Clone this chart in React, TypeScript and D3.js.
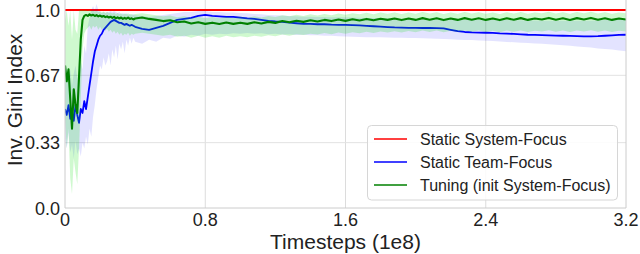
import * as d3 from 'd3'

// timesteps (1e8): fine grid early on, coarser afterwards
const steps = [
  0, 0.01, 0.02, 0.03, 0.04, 0.05, 0.06, 0.07, 0.08, 0.09,
  0.1, 0.11, 0.12, 0.13, 0.14, 0.15, 0.16, 0.17, 0.18, 0.19,
  0.2, 0.21, 0.22, 0.23, 0.24, 0.25, 0.26, 0.27, 0.28, 0.29,
  0.3, 0.31, 0.32, 0.33, 0.34, 0.35, 0.36, 0.37, 0.38, 0.39,
  0.4,
  0.44, 0.48, 0.52, 0.56, 0.6, 0.64, 0.68, 0.72, 0.76, 0.8,
  0.84, 0.88, 0.92, 0.96, 1.0, 1.04, 1.08, 1.12, 1.16, 1.2,
  1.24, 1.28, 1.32, 1.36, 1.4, 1.44, 1.48, 1.52, 1.56, 1.6,
  1.64, 1.68, 1.72, 1.76, 1.8, 1.84, 1.88, 1.92, 1.96, 2.0,
  2.04, 2.08, 2.12, 2.16, 2.2, 2.24, 2.28, 2.32, 2.36, 2.4,
  2.44, 2.48, 2.52, 2.56, 2.6, 2.64, 2.68, 2.72, 2.76, 2.8,
  2.84, 2.88, 2.92, 2.96, 3.0, 3.04, 3.08, 3.12, 3.16, 3.2,
]

const systemSteps = [0, 3.2]
const systemFocus = [1.0, 1.0]

const teamFocus = [
  0.5, 0.47, 0.52, 0.45, 0.49, 0.44, 0.52, 0.47, 0.43, 0.5,
  0.48, 0.54, 0.5, 0.56, 0.62, 0.68, 0.74, 0.79, 0.82, 0.85,
  0.87, 0.88, 0.9, 0.91, 0.92, 0.93, 0.94, 0.945, 0.95, 0.945,
  0.94, 0.935, 0.935, 0.93, 0.925, 0.93, 0.925, 0.92, 0.925, 0.92,
  0.915,
  0.905, 0.9, 0.91, 0.92, 0.935, 0.95, 0.955, 0.96, 0.97, 0.975,
  0.97, 0.968, 0.965, 0.965, 0.962, 0.958, 0.955, 0.95, 0.945, 0.942,
  0.94, 0.936, 0.933, 0.93, 0.93, 0.928, 0.928, 0.926, 0.925, 0.925,
  0.924, 0.922, 0.92, 0.918, 0.916, 0.914, 0.912, 0.911, 0.91, 0.91,
  0.909, 0.909, 0.908, 0.907, 0.9, 0.893, 0.889, 0.887, 0.886, 0.885,
  0.884, 0.882, 0.881, 0.879, 0.877, 0.875, 0.874, 0.873, 0.872, 0.871,
  0.87, 0.869, 0.868, 0.867, 0.867, 0.868, 0.87, 0.872, 0.874, 0.875,
]
const teamLow = [
  0.35, 0.3, 0.38, 0.28, 0.32, 0.25, 0.34, 0.27, 0.3, 0.26,
  0.33, 0.3, 0.36, 0.32, 0.4, 0.36, 0.46, 0.52, 0.6, 0.66,
  0.72, 0.7, 0.76, 0.72, 0.74, 0.78, 0.72, 0.8, 0.76, 0.82,
  0.75, 0.83, 0.8, 0.84, 0.78, 0.85, 0.82, 0.86, 0.83, 0.86,
  0.84,
  0.83, 0.85, 0.84, 0.86, 0.855, 0.87, 0.865, 0.875, 0.87, 0.88,
  0.875, 0.88, 0.878, 0.882, 0.88, 0.884, 0.88, 0.882, 0.878, 0.88,
  0.876, 0.878, 0.874, 0.875, 0.872, 0.873, 0.87, 0.87, 0.868, 0.866,
  0.865, 0.864, 0.863, 0.862, 0.862, 0.861, 0.86, 0.86, 0.859, 0.858,
  0.857, 0.856, 0.855, 0.854, 0.852, 0.85, 0.849, 0.848, 0.846, 0.845,
  0.843, 0.841, 0.839, 0.837, 0.835, 0.833, 0.831, 0.829, 0.827, 0.825,
  0.822, 0.819, 0.816, 0.813, 0.81, 0.806, 0.803, 0.8, 0.796, 0.792,
]
const teamHigh = [
  0.66, 0.72, 0.64, 0.7, 0.62, 0.68, 0.72, 0.66, 0.62, 0.74,
  0.7, 0.82, 0.78, 0.92, 0.96, 1.0, 1.02, 1.0, 1.03, 1.0,
  0.99, 0.985, 0.99, 0.985, 0.99, 0.99, 0.995, 0.99, 0.995, 0.99,
  0.985, 0.99, 0.98, 0.985, 0.98, 0.985, 0.975, 0.98, 0.975, 0.98,
  0.975,
  0.97, 0.965, 0.97, 0.975, 0.98, 0.985, 0.99, 0.99, 0.995, 0.995,
  0.99, 0.99, 0.988, 0.988, 0.985, 0.983, 0.98, 0.978, 0.975, 0.973,
  0.972, 0.97, 0.968, 0.966, 0.966, 0.965, 0.965, 0.964, 0.963, 0.963,
  0.962, 0.961, 0.96, 0.96, 0.958, 0.957, 0.956, 0.955, 0.955, 0.955,
  0.954, 0.954, 0.953, 0.953, 0.951, 0.95, 0.95, 0.95, 0.95, 0.95,
  0.95, 0.949, 0.949, 0.948, 0.948, 0.947, 0.947, 0.946, 0.946, 0.946,
  0.946, 0.946, 0.946, 0.946, 0.946, 0.948, 0.95, 0.952, 0.954, 0.956,
]

const tuning = [
  0.72, 0.64, 0.7, 0.55, 0.4, 0.6, 0.52, 0.48, 0.66, 0.85,
  0.95, 0.97, 0.975, 0.97, 0.978, 0.972, 0.976, 0.97, 0.974, 0.968,
  0.972, 0.966, 0.97, 0.964, 0.968, 0.962, 0.966, 0.96, 0.965, 0.958,
  0.963, 0.957, 0.962, 0.955, 0.96, 0.956, 0.962, 0.955, 0.958, 0.952,
  0.957,
  0.962, 0.955, 0.95, 0.944, 0.948, 0.938, 0.942, 0.932, 0.938, 0.93,
  0.936, 0.929, 0.937, 0.93, 0.936, 0.93, 0.938, 0.932, 0.94, 0.935,
  0.944, 0.938, 0.946, 0.94, 0.948, 0.942, 0.95, 0.944, 0.952, 0.945,
  0.953, 0.947, 0.955, 0.948, 0.956, 0.95, 0.957, 0.949, 0.957, 0.95,
  0.959, 0.951, 0.958, 0.949, 0.957, 0.95, 0.959, 0.951, 0.958, 0.95,
  0.957, 0.949, 0.958, 0.951, 0.959, 0.95, 0.957, 0.952, 0.96, 0.951,
  0.958, 0.95, 0.959, 0.952, 0.96, 0.951, 0.958, 0.95, 0.957, 0.952,
]
const tuningLow = [
  0.45, 0.3, 0.4, 0.15, 0.07, 0.25, 0.18, 0.12, 0.3, 0.55,
  0.8, 0.88, 0.9, 0.91, 0.92, 0.9, 0.92, 0.91, 0.92, 0.9,
  0.915, 0.9, 0.91, 0.895, 0.905, 0.89, 0.9, 0.885, 0.895, 0.88,
  0.89, 0.875, 0.885, 0.87, 0.88, 0.875, 0.885, 0.87, 0.88, 0.875,
  0.88,
  0.885, 0.88, 0.875, 0.87, 0.875, 0.865, 0.87, 0.86, 0.87, 0.86,
  0.868, 0.86, 0.87, 0.862, 0.868, 0.862, 0.87, 0.865, 0.872, 0.868,
  0.876, 0.87, 0.878, 0.874, 0.88, 0.876, 0.884, 0.878, 0.886, 0.88,
  0.888, 0.882, 0.89, 0.884, 0.892, 0.886, 0.893, 0.886, 0.894, 0.888,
  0.896, 0.889, 0.896, 0.888, 0.895, 0.889, 0.897, 0.89, 0.896, 0.889,
  0.895, 0.888, 0.896, 0.89, 0.897, 0.889, 0.895, 0.891, 0.898, 0.89,
  0.896, 0.889, 0.897, 0.891, 0.898, 0.89, 0.896, 0.889, 0.895, 0.891,
]
const tuningHigh = [
  0.95, 1.0, 0.92, 1.0, 0.85, 1.0, 0.9, 0.88, 1.0, 1.0,
  1.0, 1.0, 1.0, 0.995, 1.0, 0.995, 0.998, 0.992, 0.996, 0.99,
  0.994, 0.988, 0.992, 0.986, 0.99, 0.985, 0.988, 0.982, 0.987, 0.98,
  0.985, 0.979, 0.984, 0.977, 0.982, 0.978, 0.984, 0.977, 0.98, 0.975,
  0.98,
  0.984, 0.978, 0.974, 0.968, 0.972, 0.964, 0.968, 0.96, 0.966, 0.958,
  0.965, 0.958, 0.966, 0.96, 0.966, 0.96, 0.968, 0.962, 0.97, 0.965,
  0.974, 0.968, 0.976, 0.97, 0.978, 0.972, 0.98, 0.974, 0.982, 0.976,
  0.984, 0.978, 0.986, 0.979, 0.987, 0.981, 0.988, 0.98, 0.988, 0.981,
  0.99, 0.982, 0.989, 0.98, 0.988, 0.981, 0.99, 0.982, 0.989, 0.981,
  0.988, 0.98, 0.989, 0.982, 0.99, 0.981, 0.988, 0.983, 0.991, 0.982,
  0.989, 0.981, 0.99, 0.983, 0.991, 0.982, 0.989, 0.981, 0.988, 0.983,
]

const xTicks = [0, 0.8, 1.6, 2.4, 3.2]
const xTickLabels = ['0', '0.8', '1.6', '2.4', '3.2']
const yTicks = [0, 0.33, 0.67, 1.0]
const yTickLabels = ['0.0', '0.33', '0.67', '1.0']

const legendLabels = ['Static System-Focus', 'Static Team-Focus', 'Tuning (init System-Focus)']
const legendColors = ['red', 'blue', 'green']

const W = 640
const H = 254
const FONT = '"Liberation Sans", Arial, Helvetica, sans-serif'

export default function App() {
  const x = d3.scaleLinear().domain([0, 3.2]).range([65, 626])
  const y = d3.scaleLinear().domain([0, 1]).range([208, 10])
  const top = 0

  const line = (xs: number[], ys: number[]) =>
    d3.line<number>().x((_, i) => x(xs[i])).y((v) => y(v))(ys) ?? ''
  const band = (lo: number[], hi: number[]) =>
    d3
      .area<number>()
      .x((_, i) => x(steps[i]))
      .y0((_, i) => y(lo[i]))
      .y1((_, i) => y(hi[i]))(lo) ?? ''

  return (
    <div style={{ position: 'absolute', left: 0, top: 0 }}>
      <svg width={W} height={H} style={{ display: 'block', fontFamily: FONT }}>
        <defs>
          <clipPath id="plot">
            <rect x={x(0)} y={top} width={x(3.2) - x(0)} height={y(0) - top} />
          </clipPath>
        </defs>
        <rect width={W} height={H} fill="white" />

        {/* grid */}
        {xTicks.slice(1, -1).map((t) => (
          <line key={'gx' + t} x1={x(t)} x2={x(t)} y1={top} y2={y(0)} stroke="#dcdcdc" strokeWidth={1} />
        ))}
        {yTicks.slice(1).map((t) => (
          <line key={'gy' + t} x1={x(0)} x2={x(3.2)} y1={y(t)} y2={y(t)} stroke="#e2e2e2" strokeWidth={1} />
        ))}

        <g clipPath="url(#plot)">
          <path d={line(systemSteps, systemFocus)} fill="none" stroke="red" strokeWidth={2} />
          <path d={band(teamLow, teamHigh)} fill="blue" fillOpacity={0.11} />
          <path d={line(steps, teamFocus)} fill="none" stroke="blue" strokeWidth={1.8} strokeLinejoin="round" />
          <path d={band(tuningLow, tuningHigh)} fill="#10e010" fillOpacity={0.2} />
          <path d={line(steps, tuning)} fill="none" stroke="green" strokeWidth={2.1} strokeLinejoin="round" />
        </g>

        {/* spines */}
        <line x1={x(0)} x2={x(0)} y1={top} y2={y(0)} stroke="#cccccc" strokeWidth={1} />
        <line x1={x(3.2)} x2={x(3.2)} y1={top} y2={y(0)} stroke="#cccccc" strokeWidth={1} />
        <line x1={x(0)} x2={x(3.2)} y1={y(0)} y2={y(0)} stroke="#cccccc" strokeWidth={1} />

        {/* tick labels */}
        {xTicks.map((t, i) => (
          <text key={'xt' + t} x={x(t)} y={226} fontSize={18} textAnchor="middle" fill="#222">
            {xTickLabels[i]}
          </text>
        ))}
        {yTicks.map((t, i) => (
          <text key={'yt' + t} x={60} y={y(t) + 6.5} fontSize={18} textAnchor="end" fill="#222">
            {yTickLabels[i]}
          </text>
        ))}

        <text x={(x(0) + x(3.2)) / 2} y={249} fontSize={21} textAnchor="middle" fill="#222">
          Timesteps (1e8)
        </text>
        <text transform={`translate(22,100) rotate(-90)`} fontSize={21} textAnchor="middle" fill="#222">
          Inv. Gini Index
        </text>

        {/* legend */}
        <rect x={367.5} y={125.5} width={250} height={74.5} rx={4} fill="white" fillOpacity={0.85} stroke="#d6d6d6" />
        {legendLabels.map((label, i) => (
          <g key={label} transform={`translate(0,${139 + i * 23})`}>
            <line x1={374} x2={407} y1={0} y2={0} stroke={legendColors[i]} strokeWidth={1.6} />
            <text x={420} y={5.8} fontSize={16} fill="#222">
              {label}
            </text>
          </g>
        ))}
      </svg>
    </div>
  )
}
